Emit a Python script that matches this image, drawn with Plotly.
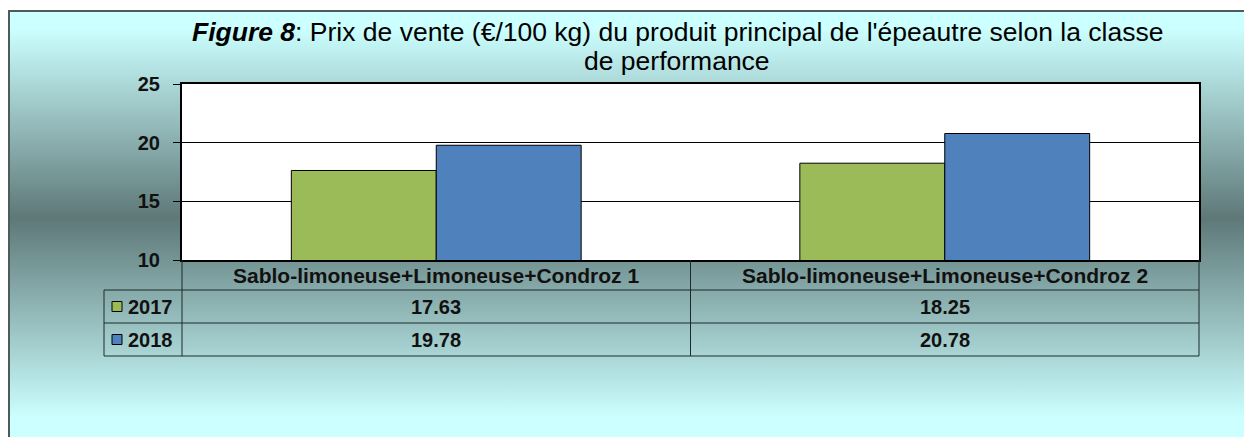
import base64
import plotly.graph_objects as go

categories = ["Sablo-limoneuse+Limoneuse+Condroz 1", "Sablo-limoneuse+Limoneuse+Condroz 2"]
years = ["2017", "2018"]
values_2017 = [17.63, 18.25]
values_2018 = [19.78, 20.78]
series = [values_2017, values_2018]
colors = ["#9BBB59", "#4F81BD"]
y_ticks = [10, 15, 20, 25]

FW, FH = 1252, 437
OFF = 8  # page body offset in the browser
# reference (screen) coordinates of the plot area
L, R, T, B = 182, 1199, 84, 260
W, H = R - L, B - T


def X(px):
    return (px - L) / W


def Y(py):
    return (B - py) / H


FONT = "Liberation Sans, Arial, sans-serif"

fig = go.Figure()
for yr, vals, col in zip(years, series, colors):
    fig.add_trace(go.Bar(
        x=categories, y=vals, name=yr,
        marker=dict(color=col, line=dict(color="black", width=1)),
        hoverinfo="x+y+name",
    ))

# gradient background via SVG image
svg = (
    '<svg xmlns="http://www.w3.org/2000/svg" width="100" height="1000" preserveAspectRatio="none">'
    '<defs><linearGradient id="g" x1="0" y1="0" x2="0" y2="1">'
    '<stop offset="0" stop-color="#CCFFFF"/>'
    '<stop offset="0.04" stop-color="#CCFFFF"/>'
    '<stop offset="0.474" stop-color="#5E7878"/>'
    '<stop offset="0.93" stop-color="#CCFFFF"/>'
    '<stop offset="1" stop-color="#CCFFFF"/>'
    '</linearGradient></defs>'
    '<rect x="0" y="0" width="100" height="1000" fill="url(#g)"/></svg>'
)
src = "data:image/svg+xml;base64," + base64.b64encode(svg.encode()).decode()
fig.add_layout_image(dict(
    source=src, xref="paper", yref="paper",
    x=X(9), y=Y(11), sizex=X(1262) - X(9), sizey=Y(11) - Y(448),
    xanchor="left", yanchor="top", sizing="stretch", layer="below",
))

shapes = []
# plot area white
shapes.append(dict(type="rect", xref="paper", yref="paper", x0=0, x1=1, y0=0, y1=1,
                   fillcolor="white", line=dict(width=0), layer="below"))
# outer border
shapes.append(dict(type="rect", xref="paper", yref="paper", x0=X(9), x1=X(1262), y0=Y(11), y1=Y(448),
                   fillcolor="rgba(0,0,0,0)", line=dict(color="#4F5A5A", width=2), layer="below"))

line_col = "#1E2A2A"
row_lines = [290, 323, 356]
for ry in row_lines:
    shapes.append(dict(type="line", xref="paper", yref="paper", x0=X(104), x1=X(R),
                       y0=Y(ry), y1=Y(ry), line=dict(color=line_col, width=1)))
shapes.append(dict(type="line", xref="paper", yref="paper", x0=X(104), x1=X(104),
                   y0=Y(290), y1=Y(356), line=dict(color=line_col, width=1)))
shapes.append(dict(type="line", xref="paper", yref="paper", x0=0, x1=0,
                   y0=Y(B), y1=Y(356), line=dict(color=line_col, width=1)))
shapes.append(dict(type="line", xref="paper", yref="paper", x0=1, x1=1,
                   y0=Y(B), y1=Y(356), line=dict(color=line_col, width=1)))
for i in range(len(categories) - 1):
    shapes.append(dict(type="line", xref="x", yref="paper", x0=i + 0.5, x1=i + 0.5,
                       y0=Y(B), y1=Y(356), line=dict(color=line_col, width=1)))

annotations = []
annotations.append(dict(
    xref="paper", yref="paper", x=X(677), y=Y(43), xanchor="center", yanchor="bottom",
    showarrow=False,
    text="<b><i>Figure 8</i></b>: Prix de vente (€/100 kg) du produit principal de l'épeautre selon la classe",
    font=dict(family=FONT, size=26.5, color="black"), yshift=-6,
))
annotations.append(dict(
    xref="paper", yref="paper", x=X(677), y=Y(72), xanchor="center", yanchor="bottom",
    showarrow=False, text="de performance",
    font=dict(family=FONT, size=26.5, color="black"), yshift=-6,
))
for i, c in enumerate(categories):
    annotations.append(dict(xref="x", yref="paper", x=c, y=Y(275), xanchor="center", yanchor="middle",
                            showarrow=False, text=f"<b>{c}</b>",
                            font=dict(family=FONT, size=21, color="#111")))
row_centers = [306.5, 339.5]
for yr, vals, col, rc in zip(years, series, colors, row_centers):
    shapes.append(dict(type="rect", xref="paper", yref="paper", x0=X(112), x1=X(122),
                       y0=Y(rc - 5), y1=Y(rc + 5), fillcolor=col,
                       line=dict(color="black", width=1)))
    annotations.append(dict(xref="paper", yref="paper", x=X(126), y=Y(rc), xanchor="left",
                            yanchor="middle", showarrow=False, text=f"<b>{yr}</b>",
                            font=dict(family=FONT, size=20, color="#111")))
    for c, v in zip(categories, vals):
        annotations.append(dict(xref="x", yref="paper", x=c, y=Y(rc), xanchor="center",
                                yanchor="middle", showarrow=False, text=f"<b>{v:.2f}</b>",
                                font=dict(family=FONT, size=20, color="#111")))

fig.update_layout(
    width=FW, height=FH,
    margin=dict(l=L - OFF, r=FW - R + OFF, t=T - OFF, b=FH - B + OFF, pad=0),
    paper_bgcolor="white", plot_bgcolor="rgba(0,0,0,0)",
    barmode="group", bargap=0.43, bargroupgap=0,
    showlegend=False,
    shapes=shapes, annotations=annotations,
    xaxis=dict(showticklabels=False, ticks="", showgrid=False, showline=True,
               linecolor="black", linewidth=2, mirror=True, zeroline=False),
    yaxis=dict(range=[10, 25], tickvals=y_ticks, showgrid=True, gridcolor="black", gridwidth=1,
               ticks="outside", ticklen=7, tickcolor="black", tickwidth=1,
               showline=True, linecolor="black", linewidth=2, mirror=True, zeroline=False,
               tickfont=dict(family=FONT, size=20, color="#111", weight="bold"),
               ticklabelstandoff=9),
)

fig.write_html("out.html")
